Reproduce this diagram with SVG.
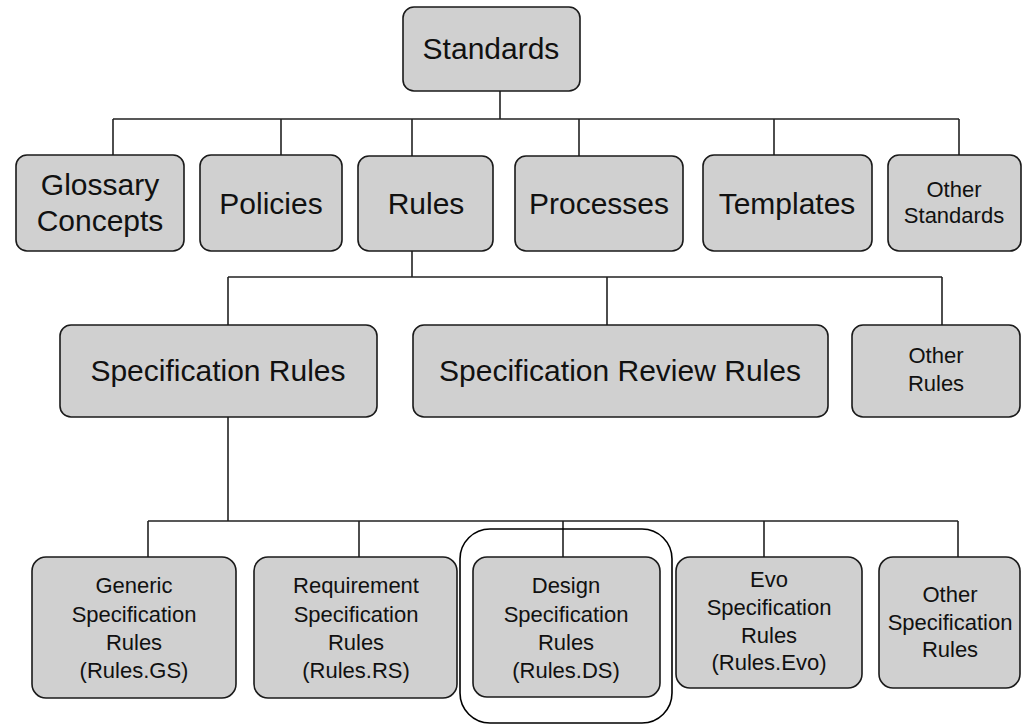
<svg xmlns="http://www.w3.org/2000/svg" width="1023" height="725" viewBox="0 0 1023 725">
  <style>
    .box { fill: #d0d0d0; stroke: #1a1a1a; stroke-width: 1.6; }
    .lbl { font-family: "Liberation Sans", Arial, sans-serif; fill: #111; text-anchor: middle; }
    .big { font-size: 30px; }
    .small { font-size: 22px; }
    .wire { fill: none; stroke: #222; stroke-width: 1.6; }
    .mark { fill: none; stroke: #000; stroke-width: 1.6; }
  </style>
  <rect width="1023" height="725" fill="#ffffff"/>

  <!-- tree connectors -->
  <g id="connectors" class="wire">
    <path d="M500 91 V119 M113 119 H959 M113 119 V155 M281 119 V155 M412 119 V156 M579 119 V156 M774 119 V155 M959 119 V155"/>
    <path d="M412 251 V277 M228 277 H942 M228 277 V325 M607 277 V325 M942 277 V325"/>
    <path d="M228 417 V521 M148 521 H958 M148 521 V557 M359 521 V557 M563 521 V557 M764 521 V557 M958 521 V557"/>
  </g>

  <!-- top -->
  <g id="standards">
    <rect class="box" x="403" y="7" width="177" height="84" rx="11"/>
    <text class="lbl big" x="491" y="59">Standards</text>
  </g>

  <!-- level 1 -->
  <g id="glossary">
    <rect class="box" x="16" y="155" width="168" height="96" rx="11"/>
    <text class="lbl big" x="100" y="195">Glossary</text>
    <text class="lbl big" x="100" y="231">Concepts</text>
  </g>
  <g id="policies">
    <rect class="box" x="200" y="155" width="142" height="96" rx="11"/>
    <text class="lbl big" x="271" y="214">Policies</text>
  </g>
  <g id="rules">
    <rect class="box" x="358" y="156" width="135" height="95" rx="11"/>
    <text class="lbl big" x="426" y="214">Rules</text>
  </g>
  <g id="processes">
    <rect class="box" x="515" y="156" width="168" height="95" rx="11"/>
    <text class="lbl big" x="599" y="214">Processes</text>
  </g>
  <g id="templates">
    <rect class="box" x="703" y="155" width="169" height="96" rx="11"/>
    <text class="lbl big" x="787" y="214">Templates</text>
  </g>
  <g id="other-standards">
    <rect class="box" x="888" y="155" width="133" height="96" rx="11"/>
    <text class="lbl small" x="954" y="197">Other</text>
    <text class="lbl small" x="954" y="223">Standards</text>
  </g>

  <!-- level 2 -->
  <g id="specification-rules">
    <rect class="box" x="60" y="325" width="317" height="92" rx="11"/>
    <text class="lbl big" x="218" y="381">Specification Rules</text>
  </g>
  <g id="specification-review-rules">
    <rect class="box" x="413" y="325" width="415" height="92" rx="11"/>
    <text class="lbl big" x="620" y="381">Specification Review Rules</text>
  </g>
  <g id="other-rules">
    <rect class="box" x="852" y="325" width="168" height="92" rx="11"/>
    <text class="lbl small" x="936" y="363">Other</text>
    <text class="lbl small" x="936" y="391">Rules</text>
  </g>

  <!-- level 3 -->
  <g id="generic-spec-rules">
    <rect class="box" x="32" y="557" width="204" height="141" rx="14"/>
    <text class="lbl small" x="134" y="593">Generic</text>
    <text class="lbl small" x="134" y="622">Specification</text>
    <text class="lbl small" x="134" y="650">Rules</text>
    <text class="lbl small" x="134" y="678">(Rules.GS)</text>
  </g>
  <g id="requirement-spec-rules">
    <rect class="box" x="254" y="557" width="203" height="141" rx="14"/>
    <text class="lbl small" x="356" y="593">Requirement</text>
    <text class="lbl small" x="356" y="622">Specification</text>
    <text class="lbl small" x="356" y="650">Rules</text>
    <text class="lbl small" x="356" y="678">(Rules.RS)</text>
  </g>
  <g id="design-spec-rules">
    <rect class="box" x="473" y="557" width="187" height="140" rx="14"/>
    <text class="lbl small" x="566" y="593">Design</text>
    <text class="lbl small" x="566" y="622">Specification</text>
    <text class="lbl small" x="566" y="650">Rules</text>
    <text class="lbl small" x="566" y="678">(Rules.DS)</text>
    <rect class="mark" x="460" y="529" width="212" height="194" rx="30"/>
  </g>
  <g id="evo-spec-rules">
    <rect class="box" x="676" y="557" width="186" height="131" rx="14"/>
    <text class="lbl small" x="769" y="587">Evo</text>
    <text class="lbl small" x="769" y="615">Specification</text>
    <text class="lbl small" x="769" y="643">Rules</text>
    <text class="lbl small" x="769" y="670">(Rules.Evo)</text>
  </g>
  <g id="other-spec-rules">
    <rect class="box" x="879" y="557" width="141" height="131" rx="14"/>
    <text class="lbl small" x="950" y="602">Other</text>
    <text class="lbl small" x="950" y="630">Specification</text>
    <text class="lbl small" x="950" y="657">Rules</text>
  </g>
</svg>
